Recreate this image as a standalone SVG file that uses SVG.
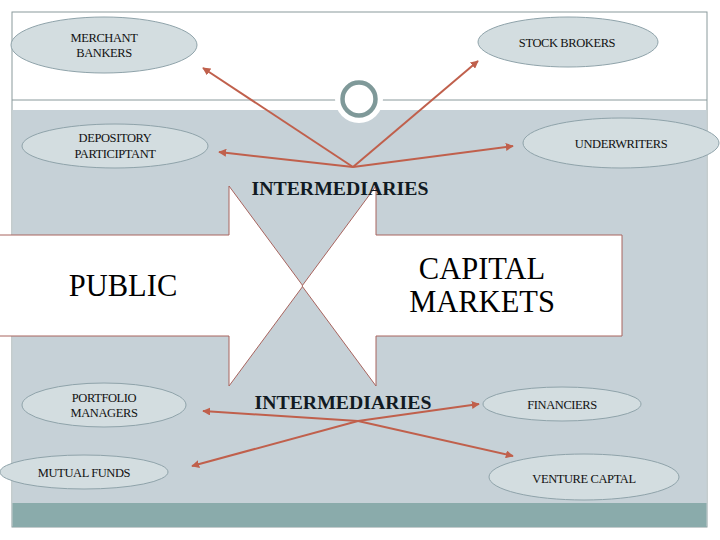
<svg xmlns="http://www.w3.org/2000/svg" width="720" height="540" viewBox="0 0 720 540">
<style>
.ell{fill:#d3dde0;stroke:#8fa3aa;stroke-width:1}
.lbl{font-family:"Liberation Serif","Times New Roman",serif;font-size:12.5px;fill:#111;text-anchor:middle;letter-spacing:-0.4px}
.big{font-family:"Liberation Serif","Times New Roman",serif;font-size:30.5px;fill:#000;text-anchor:middle}
.mid{font-family:"Liberation Serif","Times New Roman",serif;font-size:19.8px;font-weight:bold;fill:#111a22;text-anchor:middle}
.arr{fill:#ffffff;stroke:#a8645e;stroke-width:1}
.con{stroke:#c0604c;stroke-width:2;fill:none;marker-end:url(#ah)}
</style>
<defs>
<marker id="ah" viewBox="0 0 10 10" refX="9" refY="5" markerWidth="4" markerHeight="4" orient="auto" markerUnits="strokeWidth">
<path d="M0 0 L10 5 L0 10 Z" fill="#c0604c"/>
</marker>
</defs>
<rect width="720" height="540" fill="#ffffff"/>
<g id="background">
<rect x="12" y="12" width="695" height="515" fill="#ffffff" stroke="#8a9a9c" stroke-width="1"/>
<rect x="12.5" y="110" width="694" height="393" fill="#c6d1d7"/>
<rect x="12.5" y="503" width="694" height="24" fill="#8aabab"/>
<line x1="12" y1="100" x2="707" y2="100" stroke="#8a9a9c" stroke-width="1"/>
<circle cx="359" cy="99" r="24" fill="#ffffff"/>
<circle cx="359" cy="99" r="16.5" fill="#ffffff" stroke="#7f9999" stroke-width="4.5"/>
</g>
<g id="public">
<path class="arr" d="M-2 235 L229 235 L229 186 L303 286 L229 386 L229 336 L-2 336 Z"/>
<text class="big" x="123" y="296">PUBLIC</text>
</g>
<g id="capital-markets">
<path class="arr" d="M622 235 L376 235 L376 186 L302 286 L376 386 L376 336 L622 336 Z"/>
<text class="big" x="482" y="279">CAPITAL</text>
<text class="big" x="482" y="312">MARKETS</text>
</g>
<g id="intermediaries-top"><text class="mid" x="340" y="195">INTERMEDIARIES</text></g>
<g id="intermediaries-bottom"><text class="mid" x="343" y="409">INTERMEDIARIES</text></g>
<g id="connectors">
<line class="con" x1="353" y1="167" x2="203" y2="68"/>
<line class="con" x1="353" y1="167" x2="478" y2="61"/>
<line class="con" x1="353" y1="167" x2="219" y2="152"/>
<line class="con" x1="353" y1="167" x2="513" y2="146"/>
<line class="con" x1="358" y1="421" x2="203" y2="411"/>
<line class="con" x1="358" y1="421" x2="192" y2="466"/>
<line class="con" x1="358" y1="421" x2="479" y2="404"/>
<line class="con" x1="358" y1="421" x2="513" y2="456"/>
</g>
<g id="merchant-bankers">
<ellipse class="ell" cx="104" cy="45" rx="93" ry="28"/>
<text class="lbl" x="104" y="42">MERCHANT</text>
<text class="lbl" x="104" y="57">BANKERS</text>
</g>
<g id="stock-brokers">
<ellipse class="ell" cx="568" cy="42" rx="90" ry="25"/>
<text class="lbl" x="567" y="47">STOCK BROKERS</text>
</g>
<g id="depository-participtant">
<ellipse class="ell" cx="115" cy="146" rx="93" ry="22"/>
<text class="lbl" x="115" y="142">DEPOSITORY</text>
<text class="lbl" x="115" y="158">PARTICIPTANT</text>
</g>
<g id="underwriters">
<ellipse class="ell" cx="621" cy="143" rx="98" ry="25"/>
<text class="lbl" x="621" y="148">UNDERWRITERS</text>
</g>
<g id="portfolio-managers">
<ellipse class="ell" cx="104" cy="405" rx="82" ry="22"/>
<text class="lbl" x="104" y="402">PORTFOLIO</text>
<text class="lbl" x="104" y="417">MANAGERS</text>
</g>
<g id="mutual-funds">
<ellipse class="ell" cx="84" cy="472" rx="84" ry="17"/>
<text class="lbl" x="84" y="477">MUTUAL FUNDS</text>
</g>
<g id="financiers">
<ellipse class="ell" cx="562" cy="404" rx="79" ry="17"/>
<text class="lbl" x="562" y="409">FINANCIERS</text>
</g>
<g id="venture-captal">
<ellipse class="ell" cx="584" cy="477" rx="95" ry="23"/>
<text class="lbl" x="584" y="483">VENTURE CAPTAL</text>
</g>
</svg>
